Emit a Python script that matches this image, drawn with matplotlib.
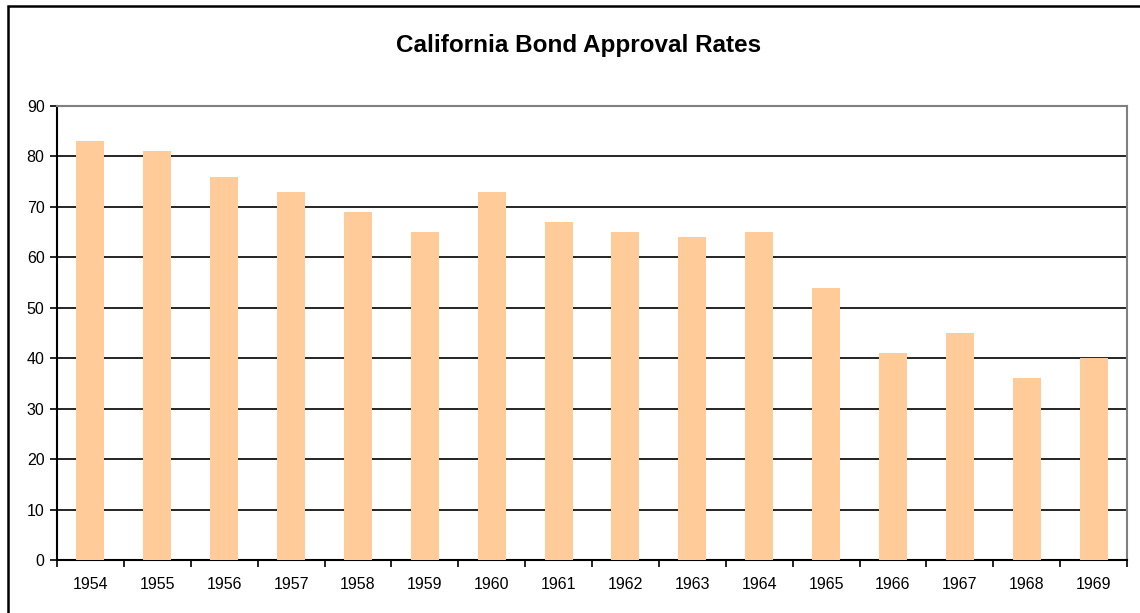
import matplotlib
matplotlib.use("Agg")
import matplotlib.pyplot as plt
from matplotlib.patches import Rectangle

plt.rcParams['font.family'] = ['Liberation Sans', 'DejaVu Sans']

# data
years = ["1954", "1955", "1956", "1957", "1958", "1959", "1960", "1961",
         "1962", "1963", "1964", "1965", "1966", "1967", "1968", "1969"]
rates = [83, 81, 76, 73, 69, 65, 73, 67, 65, 64, 65, 54, 41, 45, 36, 40]

fig = plt.figure(figsize=(11.4, 6.13), dpi=100)
ax = fig.add_axes([57 / 1140, 1 - 560 / 613, (1127 - 57) / 1140, (560 - 106) / 613])

x = list(range(len(years)))
ax.bar(x, rates, width=0.42, color="#FFCC99", zorder=3)

ax.set_ylim(0, 90)
ax.set_xlim(-0.5, len(years) - 0.5)
ax.set_yticks(range(0, 91, 10))
ax.set_xticks(x)
ax.set_xticklabels(years)
ax.set_xticks([i - 0.5 for i in range(len(years) + 1)], minor=True)
ax.tick_params(axis="x", which="major", length=0, pad=12, labelsize=11.5)
ax.tick_params(axis="x", which="minor", length=5, width=1.2, direction="out")
ax.tick_params(axis="y", length=5, width=1.2, labelsize=11.5, pad=4)

ax.grid(axis="y", color="black", linewidth=1.2, zorder=0)
ax.set_axisbelow(True)
for s in ["left", "bottom"]:
    ax.spines[s].set_color("black")
    ax.spines[s].set_linewidth(1.5)
for s in ["top", "right"]:
    ax.spines[s].set_color("#808080")
    ax.spines[s].set_linewidth(1.5)

fig.text(579 / 1140, 1 - 52 / 613, "California Bond Approval Rates",
         ha="center", va="baseline", fontsize=17.5, fontweight="bold")

# outer chart frame
fig.patches.append(Rectangle((8 / 1140, -0.05), 1.2, 1 - 6 / 613 + 0.05,
                             transform=fig.transFigure, fill=False,
                             edgecolor="black", linewidth=1.8))

fig.savefig("out.png", dpi=100)
